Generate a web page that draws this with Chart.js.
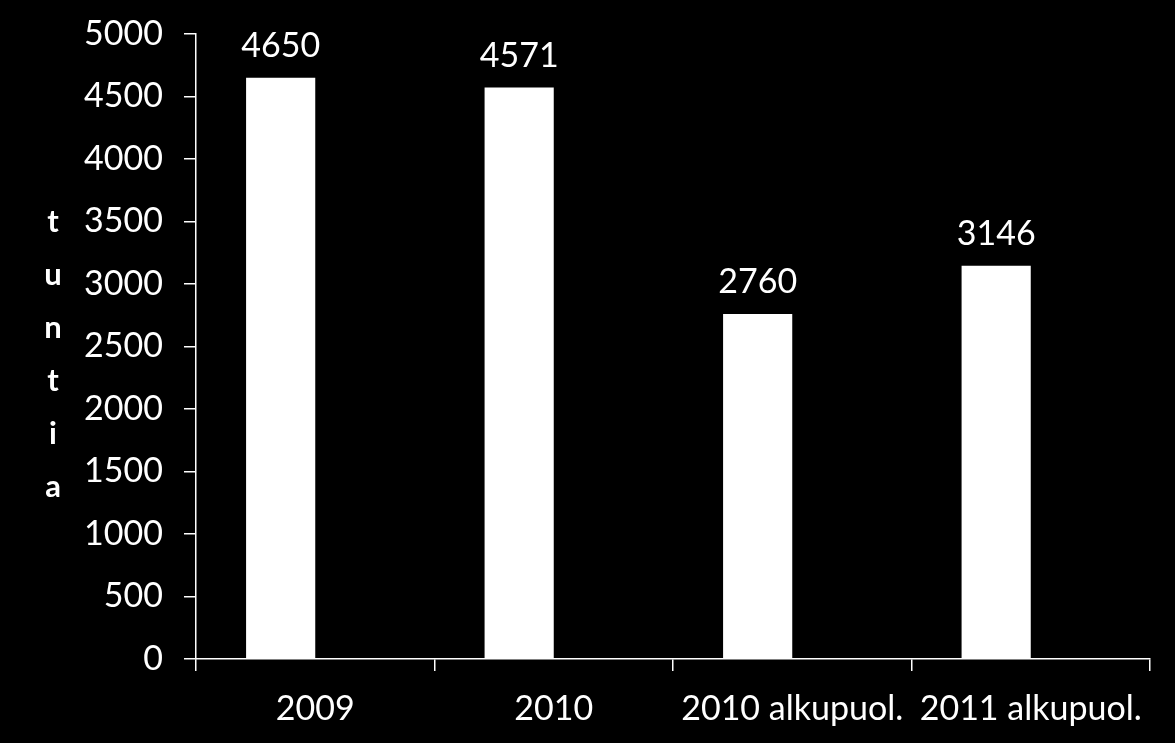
<!DOCTYPE html>
<html>
<head>
<meta charset="utf-8">
<script src="https://cdn.jsdelivr.net/npm/chart.js@4"></script>
<style>
  html, body { margin: 0; padding: 0; background: #000; }
  #wrap { width: 1175px; height: 743px; }
</style>
</head>
<body>
<div id="wrap"><canvas id="tunnitChart"></canvas></div>
<script>
const categories = ['2009', '2010', '2010 alkupuol.', '2011 alkupuol.'];
const hours = [4650, 4571, 2760, 3146];
const emptySeries = [];
const yTitleLetters = ['t', 'u', 'n', 't', 'i', 'a'];

const FONT = 'Lato, "Open Sans", sans-serif';

// arvot pylväiden yläpuolelle
const valueLabels = {
    id: 'valueLabels',
    afterDatasetsDraw(chart) {
        const ctx = chart.ctx;
        const meta = chart.getDatasetMeta(0);
        ctx.save();
        ctx.fillStyle = '#fff';
        ctx.font = '34px ' + FONT;
        ctx.textAlign = 'center';
        ctx.textBaseline = 'bottom';
        meta.data.forEach(function (bar, i) {
            ctx.fillText(String(hours[i]), bar.x, bar.y - 15);
        });
        ctx.restore();
    }
};

// pystyotsikko kirjain kerrallaan
const stackedTitle = {
    id: 'stackedTitle',
    afterDraw(chart) {
        const ctx = chart.ctx;
        const area = chart.chartArea;
        const step = 53;
        const mid = (area.top + area.bottom) / 2 + 8;
        const start = mid - step * (yTitleLetters.length - 1) / 2;
        ctx.save();
        ctx.fillStyle = '#fff';
        ctx.font = 'bold 31px ' + FONT;
        ctx.textAlign = 'center';
        ctx.textBaseline = 'middle';
        yTitleLetters.forEach(function (ch, i) {
            ctx.fillText(ch, 53, start + i * step);
        });
        ctx.restore();
    }
};

new Chart(document.getElementById('tunnitChart'), {
    type: 'bar',
    data: {
        labels: categories,
        datasets: [{
            data: hours,
            backgroundColor: '#fff',
            borderWidth: 0,
            categoryPercentage: 0.58,
            barPercentage: 1,
        }, {
            // tyhjä sarja, vie pylväsparin oikean puolen
            data: emptySeries,
            backgroundColor: '#fff',
            categoryPercentage: 0.58,
            barPercentage: 1,
        }],
    },
    options: {
        responsive: true,
        maintainAspectRatio: false,
        animation: false,
        layout: { padding: { top: 30, right: 25, left: 0, bottom: 0 } },
        plugins: {
            legend: { display: false },
            tooltip: { enabled: false },
        },
        scales: {
            y: {
                min: 0,
                max: 5000,
                ticks: {
                    stepSize: 500,
                    color: '#fff',
                    padding: 21,
                    font: { family: FONT, size: 34, lineHeight: 0.76 },
                    callback: function (v) { return String(v); },
                },
                grid: { drawOnChartArea: false, color: '#fff', tickLength: 12, lineWidth: 1.5 },
                border: { color: '#fff', width: 1.5 },
                afterFit(scale) { scale.width = 196; },
            },
            x: {
                ticks: {
                    color: '#fff',
                    padding: 18,
                    font: { family: FONT, size: 34 },
                },
                grid: { drawOnChartArea: false, color: '#fff', tickLength: 12, lineWidth: 1.5 },
                border: { color: '#fff', width: 1.5 },
                afterFit(scale) { scale.height = 743 - 659; },
            },
        },
    },
    plugins: [valueLabels, stackedTitle],
});
</script>
</body>
</html>
